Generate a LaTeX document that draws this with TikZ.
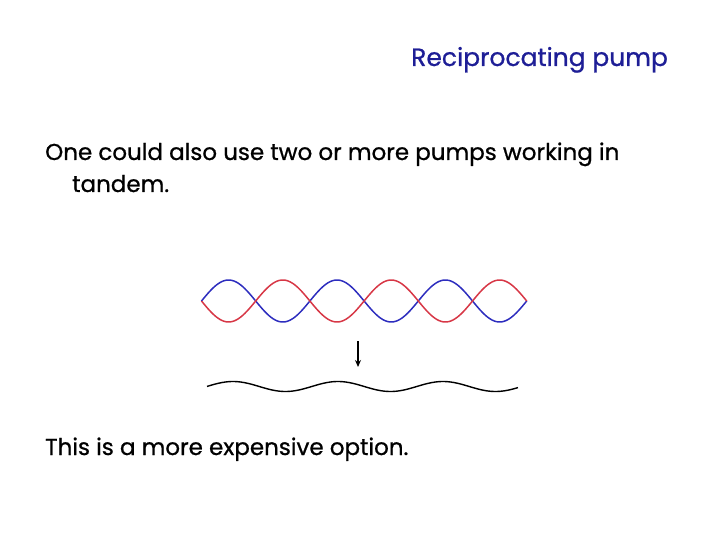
\documentclass[tikz,border=0pt]{standalone}
\usepackage{fontspec}
\setmainfont{Poppins}[FakeBold=0.8]
\usepackage{tikz}
\usetikzlibrary{positioning,arrows.meta}
\definecolor{titleblue}{RGB}{30,30,150}
\definecolor{waveblue}{RGB}{45,45,190}
\definecolor{wavered}{RGB}{215,55,70}

\begin{document}
\begin{tikzpicture}[x=1pt, y=-1pt, >={Stealth[length=7pt,width=6pt]},
    slidetext/.style={anchor=base west, inner sep=0pt, font=\fontsize{23}{27}\selectfont},
    wave/.style={line width=1.5pt, smooth, samples=160}]
  \useasboundingbox (0,0) rectangle (720,540);
  \node[slidetext, text=titleblue, font=\fontsize{25}{29}\selectfont] (title) at (411,66) {Reciprocating pump};
  \node[slidetext] (line1) at (45,160) {One could also use two or more pumps working in};
  \node[slidetext] (line2) at (72,192) {tandem.};
  % two pumps, out of phase
  \draw[wave, waveblue] plot[domain=201.5:526.7] (\x, {301-21*sin(3.321*(\x-201.5))});
  \draw[wave, wavered] plot[domain=201.5:526.7] (\x, {301+21*sin(3.321*(\x-201.5))});
  % combined flow
  \draw[wave, black, line width=1.4pt] plot[domain=207:518] (\x, {386.5-5*cos(3.4286*(\x-233))});
  \coordinate (arrtop) at (358,341);
  \coordinate (arrbot) at (358,367);
  \draw[->, line width=1.5pt] (arrtop) -- (arrbot);
  \node[slidetext] (note) at (45,455) {This is a more expensive option.};
\end{tikzpicture}
\end{document}
